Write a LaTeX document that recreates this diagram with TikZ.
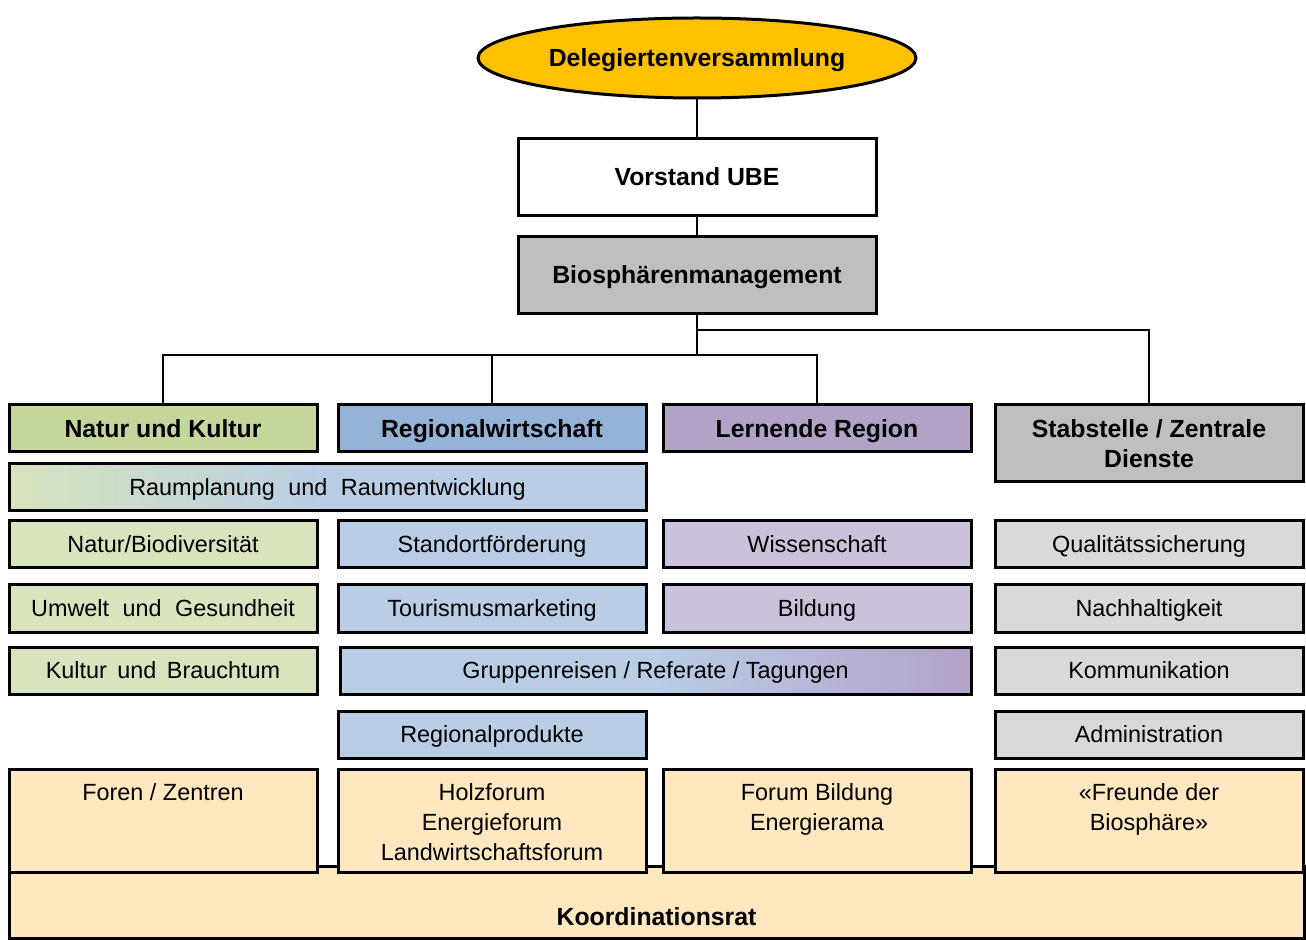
\documentclass[tikz,border=0pt]{standalone}
\usepackage{fontspec}
\setmainfont{Liberation Sans}
\usetikzlibrary{shapes.geometric,positioning}

\definecolor{cGold}{HTML}{FFC000}
\definecolor{cGrey}{HTML}{BFBFBF}
\definecolor{cNatH}{HTML}{C3D69B}
\definecolor{cNat}{HTML}{D7E4BD}
\definecolor{cRegH}{HTML}{95B3D7}
\definecolor{cReg}{HTML}{B9CDE5}
\definecolor{cLerH}{HTML}{B3A2C7}
\definecolor{cLer}{HTML}{CCC1DA}
\definecolor{cSta}{HTML}{D9D9D9}
\definecolor{cFor}{HTML}{FFE8BF}

\newcommand{\wsp}{\hspace{3.5pt}}

\begin{document}
\begin{tikzpicture}[x=0.5pt,y=-0.5pt,
    base/.style={draw, line width=1.5pt, inner sep=0pt,
      minimum width=154pt, minimum height=23.5pt,
      font=\fontsize{11.7}{15}\selectfont},
    box/.style={base, text height=8.4pt, text depth=0pt},
    head/.style={base, text height=8.9pt, text depth=0pt,
      font=\fontsize{12.4}{15}\selectfont\bfseries},
    forum/.style={base, fill=cFor, minimum height=51.5pt},
    lab/.style={inner sep=0pt, align=center, font=\fontsize{11.7}{15}\selectfont},
    link/.style={line width=1pt}]
  \useasboundingbox (0,0) rectangle (1306,940);

  % top of the hierarchy
  \node[ellipse, draw, line width=1.5pt, fill=cGold, minimum width=217.5pt,
    minimum height=40pt, text height=8.9pt, text depth=0pt,
    font=\fontsize{12.4}{15}\selectfont\bfseries] (dv) at (697,58) {Delegiertenversammlung};
  \node[head, fill=white, minimum width=179pt, minimum height=38.5pt] (vo) at (697,177) {Vorstand UBE};
  \node[head, fill=cGrey, minimum width=179pt, minimum height=38.5pt] (bm) at (697,275) {Biosphärenmanagement};

  % departments
  \node[head, fill=cNatH] (nk) at (163,428.5) {Natur und Kultur};
  \node[head, fill=cRegH] (rw) at (492,428.5) {Regionalwirtschaft};
  \node[head, fill=cLerH] (lr) at (817,428.5) {Lernende Region};
  \node[base, fill=cGrey, minimum height=38.5pt, align=center,
    font=\fontsize{12.4}{15}\selectfont\bfseries] (st) at (1149,443.5) {Stabstelle / Zentrale\\Dienste};

  % tasks
  \node[box, minimum width=318.5pt, left color=cNat, right color=cReg, middle color=cReg] (rp) at (327.5,487) {Raumplanung\wsp{} und\wsp{} Raumentwicklung};

  \node[box, fill=cNat] (n1) at (163,544.5) {Natur/Biodiversität};
  \node[box, fill=cNat] (n2) at (163,608.5) {Umwelt\wsp{} und\wsp{} Gesundheit};
  \node[box, fill=cNat] (n3) at (163,670.5) {Kultur\hspace{2pt} und\hspace{2pt} Brauchtum};

  \node[box, fill=cReg] (r1) at (492,544.5) {Standortförderung};
  \node[box, fill=cReg] (r2) at (492,608.5) {Tourismusmarketing};
  \node[box, fill=cReg] (r4) at (492,734.5) {Regionalprodukte};

  \node[box, minimum width=315.5pt, left color=cReg, right color=cLerH, middle color=cReg] (gr) at (655.5,670.5) {Gruppenreisen / Referate / Tagungen};

  \node[box, fill=cLer] (l1) at (817,544.5) {Wissenschaft};
  \node[box, fill=cLer] (l2) at (817,608.5) {Bildung};

  \node[box, fill=cSta] (s1) at (1149,544.5) {Qualitätssicherung};
  \node[box, fill=cSta] (s2) at (1149,608.5) {Nachhaltigkeit};
  \node[box, fill=cSta] (s3) at (1149,670.5) {Kommunikation};
  \node[box, fill=cSta] (s4) at (1149,734.5) {Administration};

  % forums and council
  \node[base, fill=cFor, minimum width=647.5pt, minimum height=36pt,
    text height=23pt, text depth=0pt, font=\fontsize{12.4}{15}\selectfont\bfseries] (kr) at (656.5,902) {Koordinationsrat};
  \node[forum, label={[lab, anchor=north, yshift=-8pt]north:Foren / Zentren}] (f1) at (163,820.5) {};
  \node[forum, label={[lab, anchor=north, yshift=-8pt]north:Holzforum\\Energieforum\\Landwirtschaftsforum}] (f2) at (492,820.5) {};
  \node[forum, label={[lab, anchor=north, yshift=-8pt]north:Forum Bildung\\Energierama}] (f3) at (817,820.5) {};
  \node[forum, label={[lab, anchor=north, yshift=-8pt]north:«Freunde der\\Biosphäre»}] (f4) at (1149,820.5) {};

  % connectors
  \coordinate (jA) at (697,355);
  \coordinate (jB) at (697,330);
  \draw[link] (dv) -- (vo);
  \draw[link] (vo) -- (bm);
  \draw[link] (bm) -- (jA);
  \draw[link] (nk.north) |- (jA) -| (lr.north);
  \draw[link] (rw.north) -- (rw.north |- jA);
  \draw[link] (jB) -| (st.north);
\end{tikzpicture}
\end{document}
